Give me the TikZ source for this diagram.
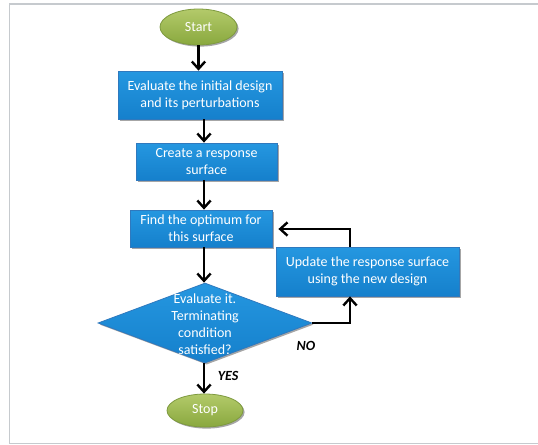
\documentclass[tikz,border=0pt]{standalone}
\usepackage{fontspec}
\setmainfont{Carlito}
\usetikzlibrary{shapes.geometric,arrows.meta,shadows}
\definecolor{boxtop}{HTML}{2597E0}
\definecolor{boxbot}{HTML}{1580CC}
\definecolor{boxedge}{HTML}{2F79BE}
\definecolor{olivetop}{HTML}{B3CA6A}
\definecolor{olivebot}{HTML}{89A83E}
\definecolor{oliveedge}{HTML}{7E9A3F}
\definecolor{framegray}{HTML}{C6CACE}
\tikzset{
  px/.style={x=0.75pt,y=-0.75pt},
  shad/.style={drop shadow={shadow xshift=1.2pt,shadow yshift=-1.2pt,opacity=0.35,fill=black}},
  procbox/.style={shape=rectangle,shad,top color=boxtop,bottom color=boxbot,draw=boxedge,line width=0.6pt,
    text=white,align=center,inner sep=0pt,font=\fontsize{10.5pt}{12.6pt}\selectfont},
  terminal/.style={shape=ellipse,shad,top color=olivetop,bottom color=olivebot,draw=oliveedge,line width=0.6pt,
    text=white,inner sep=0pt,font=\fontsize{10.5pt}{12.6pt}\selectfont},
  decision/.style={shape=diamond,shad,top color=boxtop,bottom color=boxbot,draw=boxedge,line width=0.6pt,inner sep=0pt},
  dectext/.style={text=white,align=center,inner sep=0pt,font=\fontsize{10.5pt}{12.8pt}\selectfont},
  flow/.style={line width=2.1pt,-{Straight Barb[length=5.5pt,width=10pt,line width=1.8pt]}},
  yesno/.style={font=\fontsize{10.5pt}{11pt}\selectfont\bfseries\itshape,inner sep=0pt}
}
\begin{document}
\begin{tikzpicture}[px]
\useasboundingbox (0,0) rectangle (538,444);
\fill[white] (0,0) rectangle (538,444);
\draw[framegray,line width=1.1pt] (538,3.8) -- (9.6,3.8) -- (9.6,444);
\draw[framegray,line width=1.1pt] (9.6,443.3) -- (538,443.3);

\node[terminal,minimum width=77*0.75pt,minimum height=36*0.75pt] (start) at (198.5,27) {Start};
\node[procbox,minimum width=164*0.75pt,minimum height=48*0.75pt] (eval) at (200,95) {Evaluate the initial design\\and its perturbations};
\node[procbox,minimum width=141*0.75pt,minimum height=37*0.75pt] (resp) at (206.5,161.5) {Create a response\\surface};
\node[procbox,minimum width=142*0.75pt,minimum height=37*0.75pt] (opt) at (201,228.5) {Find the optimum for\\this surface};
\node[procbox,minimum width=183*0.75pt,minimum height=49*0.75pt] (upd) at (367.5,271.5) {Update the response surface\\using the new design};
\node[decision,minimum width=214*0.75pt,minimum height=80*0.75pt] (dec) at (205,323) {};
\node[dectext] (dect) at (205,324) {Evaluate it.\\Terminating\\condition\\satisfied?};
\node[terminal,minimum width=76*0.75pt,minimum height=33*0.75pt] (stop) at (205,410.5) {Stop};

\draw[flow] (start.south) -- (start.south |- eval.north);
\draw[flow] (eval.south -| 204,0) -- (resp.north -| 204,0);
\draw[flow] (resp.south -| 204,0) -- (opt.north -| 204,0);
\draw[flow] (opt.south -| 204,0) -- (dec.north -| 204,0);
\draw[flow] (dec.south -| 204,0) -- (stop.north -| 204,0);

\coordinate (nocorner) at (350,323);
\draw[flow] (dec.east) -- (nocorner) -- (upd.south -| nocorner);
\coordinate (loopcorner) at (350,229);
\draw[flow] (upd.north -| loopcorner) -- (loopcorner) -- ([xshift=4.5pt]opt.east |- loopcorner);

\node[yesno] (no) at (306,346) {NO};
\node[yesno] (yes) at (228,376) {YES};
\end{tikzpicture}
\end{document}
